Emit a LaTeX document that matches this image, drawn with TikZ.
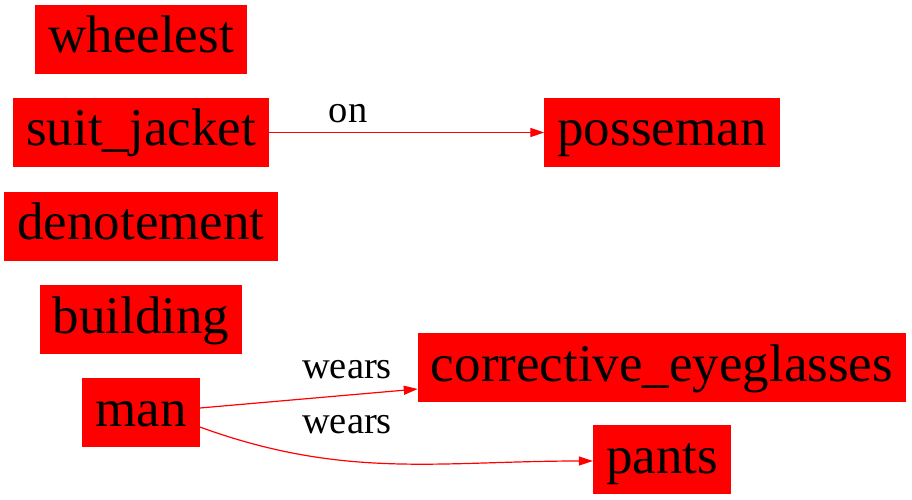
\documentclass[tikz,border=0pt]{standalone}
\usepackage{fontspec}
\setmainfont{Liberation Serif}
\usetikzlibrary{arrows.meta}

\begin{document}
\begin{tikzpicture}[x=1pt,y=-1pt,
  ent/.style={fill=red,inner xsep=13pt,inner ysep=0pt,text height=48pt,text depth=21pt,font=\fontsize{53}{60}\selectfont},
  rel/.style={draw=red,line width=1.2pt,-{Triangle[length=14pt,width=9pt]}},
  lbl/.style={font=\fontsize{38.5}{44}\selectfont,inner sep=0pt}]
\useasboundingbox (0,0) rectangle (912,500);
\node[ent] (wheelest) at (141,39.5) {wheelest};
\node[ent] (suit_jacket) at (141,132.5) {suit\_jacket};
\node[ent] (denotement) at (141,226) {denotement};
\node[ent] (building) at (141,319.5) {building};
\node[ent] (man) at (141,412.5) {man};
\node[ent] (posseman) at (662,132.5) {posseman};
\node[ent] (corrective_eyeglasses) at (662,367.5) {corrective\_eyeglasses};
\node[ent] (pants) at (662,459.5) {pants};
\draw[rel] (suit_jacket) -- (posseman);
\node[lbl,anchor=base] (on) at (348,122) {on};
\draw[rel] ([yshift=4.5pt]man.east) -- ([yshift=-21.5pt]corrective_eyeglasses.west);
\node[lbl,anchor=base] (wears1) at (347,378) {wears};
\draw[rel] ([yshift=-14.5pt]man.east) to[out=-20,in=180] ([yshift=-1.5pt]pants.west);
\node[lbl,anchor=base] (wears2) at (347,433) {wears};
\end{tikzpicture}
\end{document}
